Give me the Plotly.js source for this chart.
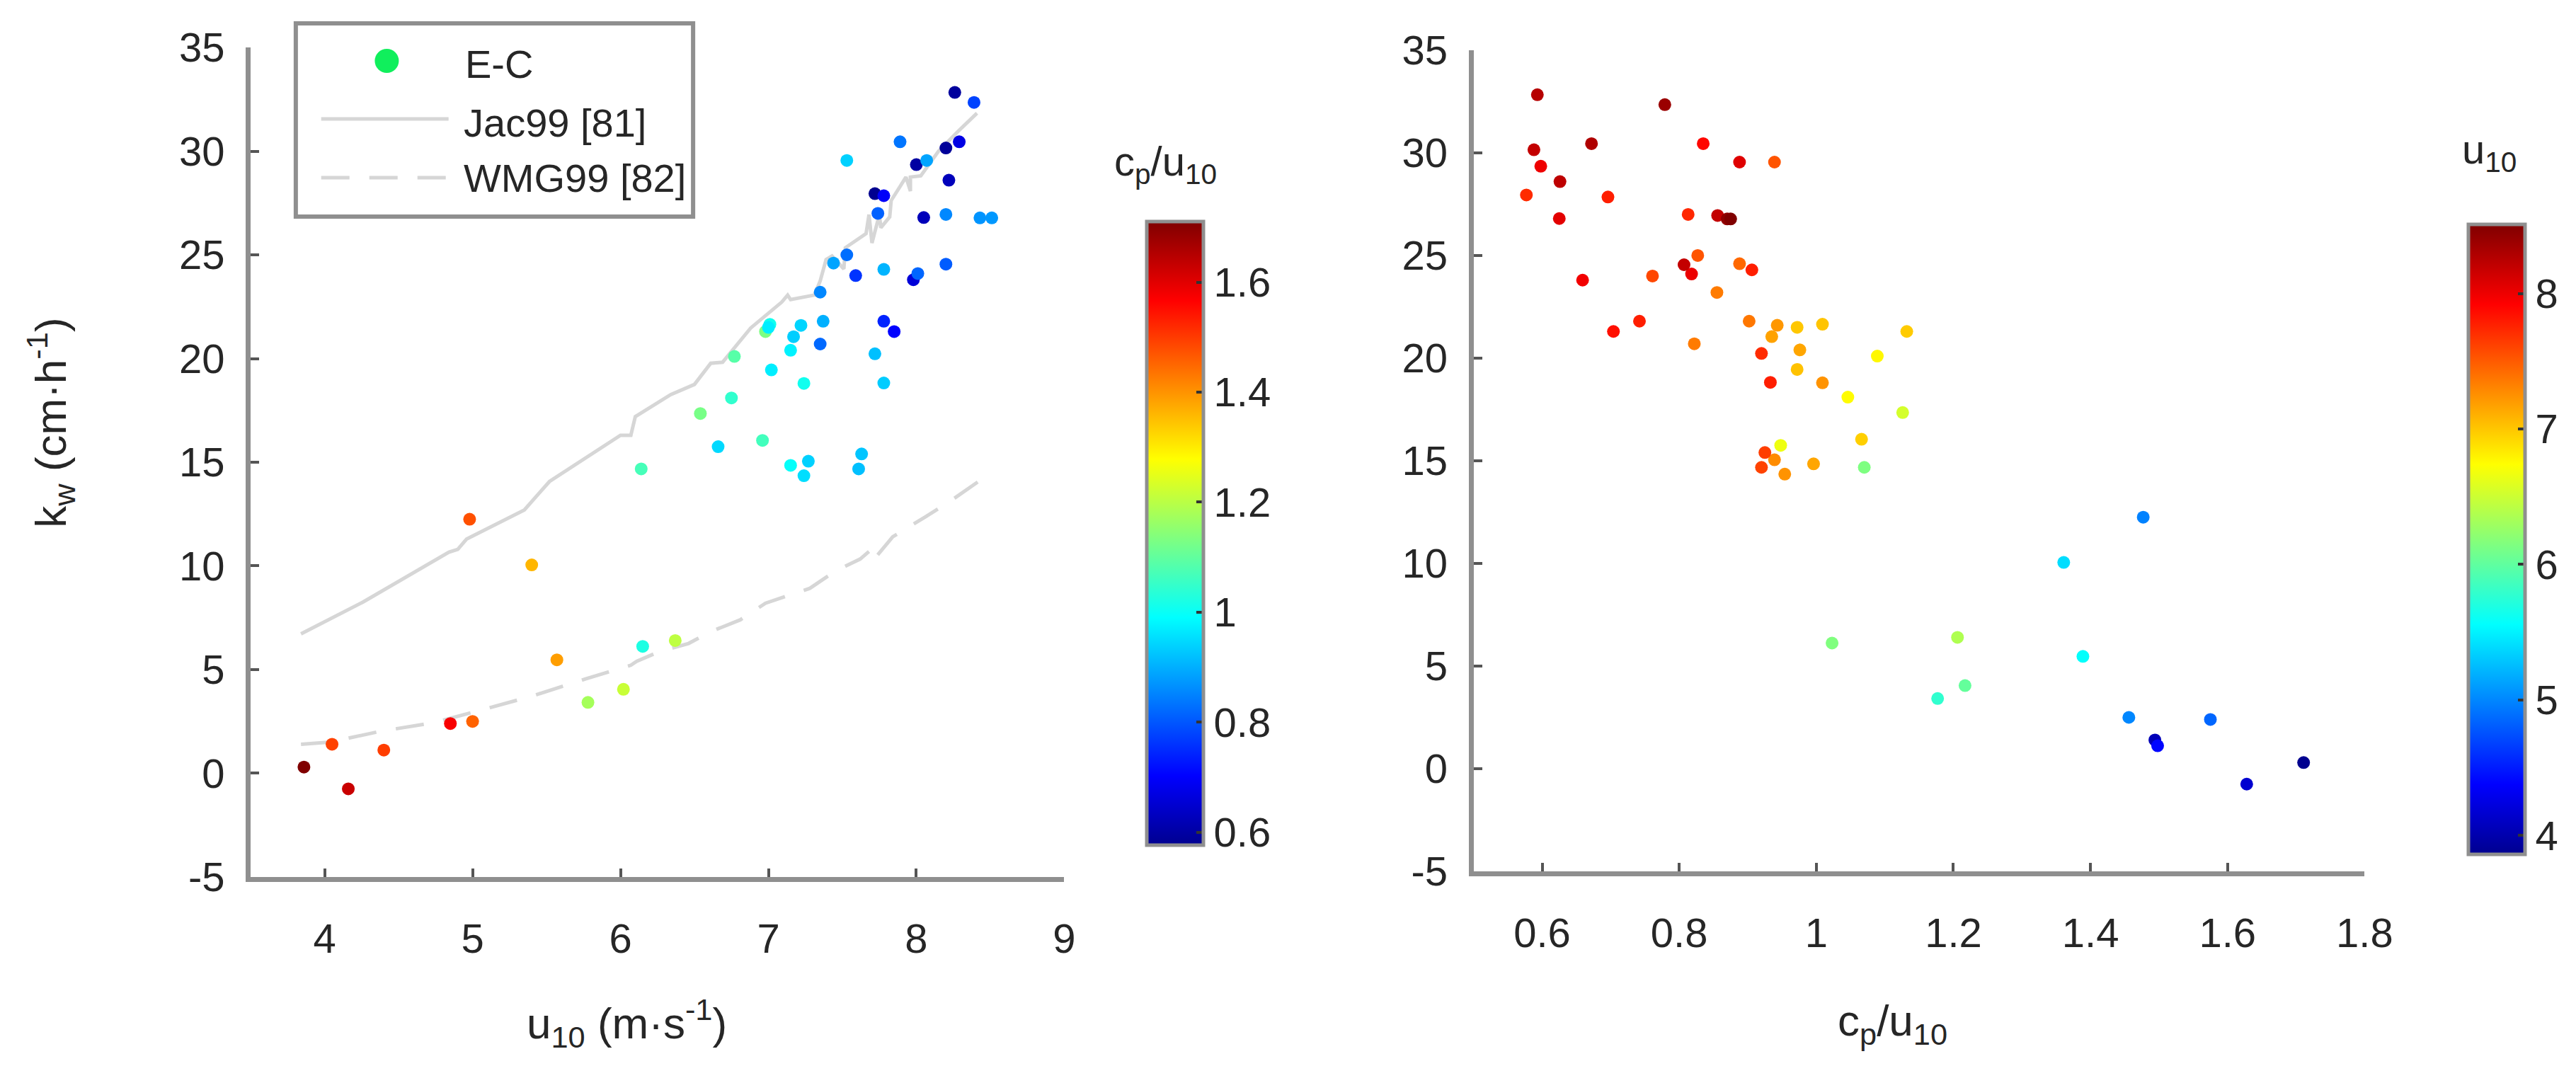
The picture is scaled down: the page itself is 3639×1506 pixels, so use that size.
<!DOCTYPE html>
<html>
<head>
<meta charset="utf-8">
<script src="https://cdn.plot.ly/plotly-3.0.1.min.js"></script>
<style>
html, body { margin: 0; padding: 0; background: #fff; }
#kw-plot { width: 3639px; height: 1506px; }
</style>
</head>
<body>
<div id="kw-plot"></div>
<script>
// E-C measurements: wind speed, transfer velocity, wave age
var u10 = [3.86, 4.05, 4.16, 4.40, 4.85, 5.00, 4.98, 5.40, 5.57, 5.78,
           6.02, 6.15, 6.37, 6.14, 6.54, 6.66, 6.75, 6.77, 6.96, 6.98,
           7.01, 7.02, 7.15, 7.17, 7.22, 7.24, 7.15, 7.24, 7.27, 7.37,
           7.35, 7.35, 7.44, 7.53, 7.53, 7.59, 7.61, 7.63, 7.72, 7.78,
           7.74, 7.72, 7.78, 7.78, 7.85, 7.78, 7.89, 8.00, 8.07, 7.98,
           8.01, 8.05, 8.20, 8.22, 8.26, 8.29, 8.39, 8.20, 8.20, 8.43,
           8.51, 7.00];
var kw = [0.30, 1.40, -0.75, 1.12, 2.40, 2.50, 12.25, 10.05, 5.47, 3.42,
          4.05, 6.12, 6.40, 14.68, 17.35, 15.75, 18.10, 20.10, 16.05, 21.30,
          21.65, 19.45, 20.40, 21.05, 21.60, 18.80, 14.85, 14.35, 15.05, 21.80,
          20.70, 23.20, 24.60, 25.00, 29.55, 24.00, 14.68, 15.40, 27.95, 27.85,
          27.00, 20.23, 24.30, 21.80, 21.30, 18.82, 30.45, 29.35, 29.55, 23.80,
          24.10, 26.80, 30.15, 28.60, 32.83, 30.45, 32.35, 26.95, 24.55, 26.78,
          26.78, 21.50];
var cpU10 = [1.711, 1.494, 1.628, 1.498, 1.575, 1.456, 1.477, 1.361, 1.389, 1.177,
             1.217, 1.023, 1.206, 1.070, 1.126, 0.948, 1.046, 1.089, 1.066, 1.132,
             1.009, 0.972, 0.976, 0.935, 0.943, 1.009, 0.996, 0.954, 0.939, 0.902,
             0.822, 0.855, 0.888, 0.827, 0.939, 0.761, 0.920, 0.925, 0.577, 0.696,
             0.813, 0.920, 0.906, 0.742, 0.704, 0.933, 0.835, 0.598, 0.888, 0.659,
             0.818, 0.625, 0.588, 0.626, 0.593, 0.672, 0.779, 0.856, 0.807, 0.870,
             0.875, 0.972];

// parameterisations evaluated at the measurement conditions
var jacU10 = [3.84, 4.26, 4.84, 4.90, 4.96, 5.35, 5.52, 5.73, 6.00, 6.07,
              6.10, 6.34, 6.50, 6.61, 6.69, 6.88, 7.09, 7.13, 7.15, 7.31,
              7.35, 7.39, 7.43, 7.51, 7.52, 7.66, 7.68, 7.70, 7.75, 7.76,
              7.82, 7.83, 7.93, 7.96, 7.96, 8.03, 8.15, 8.28, 8.41];
var jacKw = [6.72, 8.26, 10.66, 10.80, 11.30, 12.70, 14.07, 15.05, 16.30, 16.30,
             17.20, 18.26, 18.75, 19.77, 19.82, 21.47, 22.72, 23.06, 22.84, 23.06,
             23.74, 24.77, 24.94, 24.32, 25.34, 26.02, 26.94, 25.57, 26.94, 26.31,
             26.83, 27.62, 28.75, 28.07, 28.75, 28.81, 30.00, 30.94, 31.83];
var wmgU10 = [3.84, 4.04, 4.38, 4.73, 5.06, 5.41, 5.76, 6.07, 6.11, 6.26,
              6.46, 6.61, 6.81, 6.98, 7.28, 7.45, 7.62, 7.68, 7.70, 7.84,
              8.06, 8.22, 8.42];
var wmgKw = [1.40, 1.51, 2.03, 2.43, 3.05, 3.74, 4.54, 5.21, 5.40, 5.86,
             6.26, 6.83, 7.40, 8.20, 8.92, 9.74, 10.33, 10.70, 10.20, 11.40,
             12.36, 13.08, 14.07];

// kw ticks, written with a plain hyphen like the original
var kwTickVals = [-5, 0, 5, 10, 15, 20, 25, 30, 35];
var kwTickText = ['-5', '0', '5', '10', '15', '20', '25', '30', '35'];

// MATLAB jet
var jet = [[0, '#00008f'], [0.111, '#0000ff'], [0.365, '#00ffff'],
           [0.619, '#ffff00'], [0.873, '#ff0000'], [1, '#800000']];

var FONT = 'Liberation Sans, Arial, sans-serif';
var INK = '#262626';
var AXIS_GREY = '#8f8f8f';

function axisStyle(extra){
    var a = {
        showline: true, linecolor: AXIS_GREY, linewidth: 7,
        ticks: 'inside', ticklen: 12, tickwidth: 4, tickcolor: '#555',
        showgrid: false, zeroline: false, mirror: false,
        tickfont: {family: FONT, size: 58, color: INK}
    };
    for (var k in extra) a[k] = extra[k];
    return a;
}

function cbar(x, y, len, dtick){
    return {
        x: x, xanchor: 'left', y: y, yanchor: 'middle',
        len: len, lenmode: 'fraction', thickness: 80, thicknessmode: 'pixels',
        outlinecolor: AXIS_GREY, outlinewidth: 5,
        ticks: 'inside', ticklen: 12, tickwidth: 4, tickcolor: '#333',
        tick0: 0, dtick: dtick,
        tickfont: {family: FONT, size: 58, color: INK}
    };
}

var jacLine = {
    x: jacU10, y: jacKw, type: 'scatter', mode: 'lines',
    line: {color: '#d6d6d6', width: 5},
    xaxis: 'x', yaxis: 'y', hoverinfo: 'skip'
};
var wmgLine = {
    x: wmgU10, y: wmgKw, type: 'scatter', mode: 'lines',
    line: {color: '#d6d6d6', width: 5, dash: '40px,28px'},
    xaxis: 'x', yaxis: 'y', hoverinfo: 'skip'
};
var ecLeft = {
    x: u10, y: kw, type: 'scatter', mode: 'markers',
    marker: {size: 18, color: cpU10, colorscale: jet, showscale: true,
             line: {width: 0}, colorbar: cbar(0.4446, 0.500, 0.598, 0.2)},
    xaxis: 'x', yaxis: 'y'
};
var ecRight = {
    x: cpU10, y: kw, type: 'scatter', mode: 'markers',
    marker: {size: 18, color: u10, colorscale: jet, showscale: true,
             line: {width: 0}, colorbar: cbar(0.9602, 0.494, 0.604, 1)},
    xaxis: 'x2', yaxis: 'y2'
};

var data = [jacLine, wmgLine, ecLeft, ecRight];

function txt(text, x, y, size, extra){
    var a = {text: text, x: x, y: y, xref: 'paper', yref: 'paper',
             showarrow: false, xanchor: 'center', yanchor: 'middle',
             font: {family: FONT, size: size, color: INK}};
    for (var k in extra) a[k] = extra[k];
    return a;
}

var layout = {
    width: 3639, height: 1506,
    margin: {l: 0, r: 0, t: 0, b: 0},
    paper_bgcolor: '#fff', plot_bgcolor: '#fff',
    showlegend: false,
    xaxis: axisStyle({domain: [0.0978, 0.4152], range: [3.5, 9], tick0: 0, dtick: 1,
                      anchor: 'y', ticklabelstandoff: 30}),
    yaxis: axisStyle({domain: [0.1773, 0.9555], range: [-5, 35],
                      tickmode: 'array', tickvals: kwTickVals, ticktext: kwTickText,
                      anchor: 'x', ticklabelstandoff: 18}),
    xaxis2: axisStyle({domain: [0.5749, 0.9225], range: [0.5, 1.8], tick0: 0, dtick: 0.2,
                       anchor: 'y2', ticklabelstandoff: 30}),
    yaxis2: axisStyle({domain: [0.1826, 0.9529], range: [-5, 35],
                       tickmode: 'array', tickvals: kwTickVals, ticktext: kwTickText,
                       anchor: 'x2', ticklabelstandoff: 18}),
    shapes: [
        // legend box
        {type: 'rect', xref: 'paper', yref: 'paper', x0: 0.1154, x1: 0.2704, y0: 0.7968, y1: 0.9781,
         line: {color: AXIS_GREY, width: 6}, fillcolor: '#fff', layer: 'above'},
        {type: 'circle', xref: 'paper', yref: 'paper', xsizemode: 'pixel', ysizemode: 'pixel',
         xanchor: 0.1509, yanchor: 0.9429, x0: -17, x1: 17, y0: -17, y1: 17,
         fillcolor: '#10ef5c', line: {width: 0}, layer: 'above'},
        {type: 'line', xref: 'paper', yref: 'paper', x0: 0.1253, x1: 0.1750, y0: 0.8884, y1: 0.8884,
         line: {color: '#d6d6d6', width: 5}, layer: 'above'},
        {type: 'line', xref: 'paper', yref: 'paper', x0: 0.1253, x1: 0.1750, y0: 0.8333, y1: 0.8333,
         line: {color: '#d6d6d6', width: 5, dash: '40px,28px'}, layer: 'above'}
    ],
    annotations: [
        txt('E-C', 0.1808, 0.9396, 56, {xanchor: 'left'}),
        txt('Jac99 [81]', 0.1803, 0.8851, 56, {xanchor: 'left'}),
        txt('WMG99 [82]', 0.1803, 0.8333, 56, {xanchor: 'left'}),
        txt('u<sub>10</sub> (m·s<sup>-1</sup>)', 0.2446, 0.040, 62),
        txt('c<sub>p</sub>/u<sub>10</sub>', 0.7384, 0.040, 62),
        txt('k<sub>w</sub> (cm·h<sup>-1</sup>)', 0.0198, 0.6036, 62, {textangle: -90}),
        txt('c<sub>p</sub>/u<sub>10</sub>', 0.4548, 0.846, 58),
        txt('u<sub>10</sub>', 0.9711, 0.857, 58)
    ]
};

var config = {displayModeBar: false, staticPlot: true};

var plotDiv = document.getElementById('kw-plot');
if (plotDiv)
{
    Plotly.newPlot('kw-plot', data, layout, config);
}
</script>
</body>
</html>
